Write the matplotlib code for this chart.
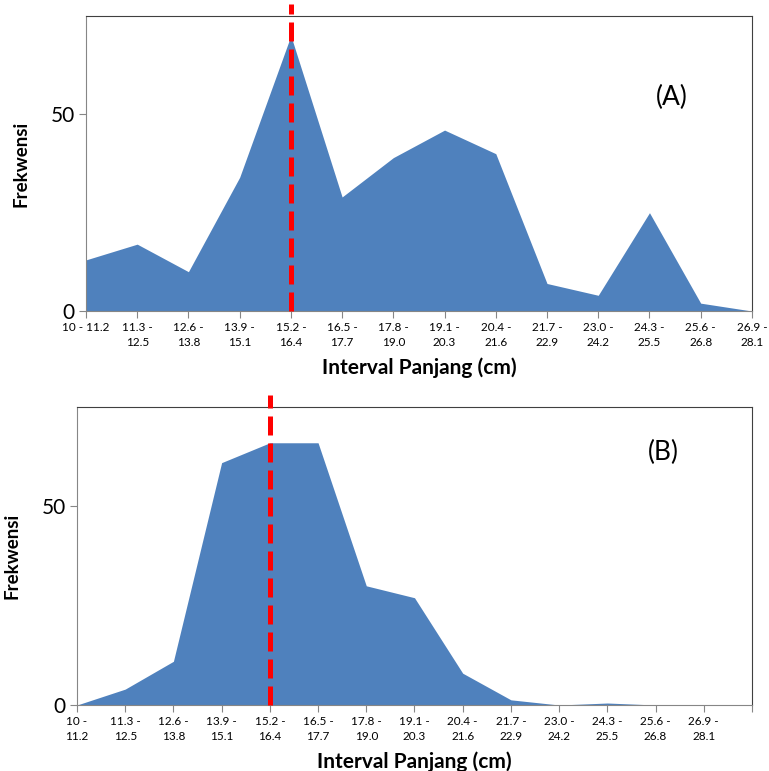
# Frequency polygon of lengths, two panels (A) and (B)

import numpy as np
import matplotlib.pyplot as plt

# data
labels_a = ['10 - 11.2', '11.3 -\n12.5', '12.6 -\n13.8', '13.9 -\n15.1', '15.2 -\n16.4',
            '16.5 -\n17.7', '17.8 -\n19.0', '19.1 -\n20.3', '20.4 -\n21.6', '21.7 -\n22.9',
            '23.0 -\n24.2', '24.3 -\n25.5', '25.6 -\n26.8', '26.9 -\n28.1']
labels_b = ['10 -\n11.2'] + labels_a[1:]

freq_a = [13, 17, 10, 34, 70, 29, 39, 46, 40, 7, 4, 25, 2, 0]
freq_b = [0, 4, 11, 61, 66, 66, 30, 27, 8, 1.3, 0, 0.5, 0, 0]

mode_a = 4   # index of the modal class
mode_b = 4

blue = '#4F81BD'
plt.rcParams['font.family'] = ['Lato', 'DejaVu Sans']

fig = plt.figure(figsize=(7.69, 7.71), dpi=100)

ax1 = fig.add_axes([0.1118, 0.5966, 0.866, 0.3826])
ax2 = fig.add_axes([0.1001, 0.0856, 0.8778, 0.3865])


def panel(ax, freq, labels, mode, xmax, tag, tagpos, extra_tick, ylpad):
    x = np.arange(len(freq))
    ax.fill_between(x, 0, freq, color=blue, linewidth=0)
    ax.set_xlim(0, xmax)
    ax.set_ylim(0, 75)
    # modal class line, runs a bit above the frame
    ax.plot([mode, mode], [0, 78], color='#FF0000', lw=3.6,
            dashes=(3.8, 1.6), clip_on=False, zorder=5)
    ticks = list(x) + ([xmax] if extra_tick else [])
    ax.set_xticks(ticks)
    ax.set_xticklabels(list(labels) + ([''] if extra_tick else []),
                       fontsize=8.5, linespacing=1.4)
    ax.set_yticks([0, 50])
    ax.tick_params(axis='y', labelsize=15, length=5, color='#868686', pad=3)
    ax.tick_params(axis='x', length=5, color='#868686', pad=3)
    for s in ['left', 'bottom']:
        ax.spines[s].set_color('#868686')
    for s in ['top', 'right']:
        ax.spines[s].set_color('#404040')
    ax.set_xlabel('Interval Panjang (cm)', fontsize=15, fontweight='bold', labelpad=7)
    ax.set_ylabel('Frekwensi', fontsize=13.5, fontweight='bold', labelpad=ylpad)
    ax.text(tagpos[0], tagpos[1], tag, transform=ax.transAxes, fontsize=19,
            ha='center', va='center')


panel(ax1, freq_a, labels_a, mode_a, 13, '(A)', (0.88, 0.725), False, 15)
panel(ax2, freq_b, labels_b, mode_b, 14, '(B)', (0.868, 0.849), True, 15)

plt.savefig('out.png', dpi=100)
